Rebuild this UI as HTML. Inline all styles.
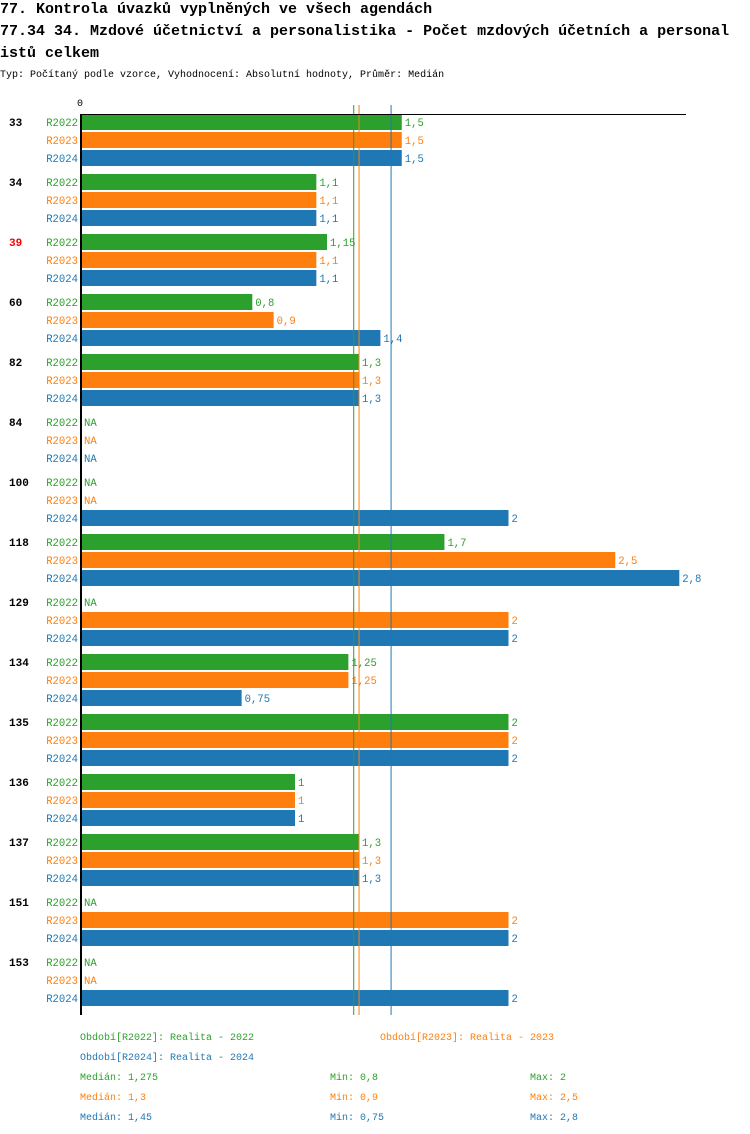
<!DOCTYPE html>
<html><head><meta charset="utf-8"><style>
body{margin:0;background:#fff;width:750px;height:1134px;overflow:hidden;font-family:"Liberation Mono",monospace}
svg{display:block}
</style></head><body>
<svg id="chart" width="750" height="1134" xmlns="http://www.w3.org/2000/svg" font-family="Liberation Mono, monospace">
<text x="0" y="13" font-size="15" font-weight="bold">77. Kontrola úvazků vyplněných ve všech agendách</text>
<text x="0" y="35" font-size="15" font-weight="bold">77.34 34. Mzdové účetnictví a personalistika - Počet mzdových účetních a personal</text>
<text x="0" y="57" font-size="15" font-weight="bold">istů celkem</text>
<text x="0" y="77" font-size="10">Typ: Počítaný podle vzorce, Vyhodnocení: Absolutní hodnoty, Průměr: Medián</text>
<g id="plot"></g>
<g id="legend" font-size="10">
<text x="80" y="1040" fill="#2ca02c">Období[R2022]: Realita - 2022</text>
<text x="380" y="1040" fill="#ff7f0e">Období[R2023]: Realita - 2023</text>
<text x="80" y="1060" fill="#1f77b4">Období[R2024]: Realita - 2024</text>
<text x="80" y="1080" fill="#2ca02c">Medián: 1,275</text>
<text x="330" y="1080" fill="#2ca02c">Min: 0,8</text>
<text x="530" y="1080" fill="#2ca02c">Max: 2</text>
<text x="80" y="1100" fill="#ff7f0e">Medián: 1,3</text>
<text x="330" y="1100" fill="#ff7f0e">Min: 0,9</text>
<text x="530" y="1100" fill="#ff7f0e">Max: 2,5</text>
<text x="80" y="1120" fill="#1f77b4">Medián: 1,45</text>
<text x="330" y="1120" fill="#1f77b4">Min: 0,75</text>
<text x="530" y="1120" fill="#1f77b4">Max: 2,8</text>
</g>
</svg>
<script>
const categories = ["33","34","39","60","82","84","100","118","129","134","135","136","137","151","153"];
const highlighted = ["39"];
const seriesNames = ["R2022","R2023","R2024"];
const r2022 = [1.5,1.1,1.15,0.8,1.3,null,null,1.7,null,1.25,2,1,1.3,null,null];
const r2023 = [1.5,1.1,1.1,0.9,1.3,null,null,2.5,2,1.25,2,1,1.3,2,null];
const r2024 = [1.5,1.1,1.1,1.4,1.3,null,2,2.8,2,0.75,2,1,1.3,2,2];
const medians = [1.275,1.3,1.45];
const colors = ["#2ca02c","#ff7f0e","#1f77b4"];
const series = [r2022,r2023,r2024];

const NS="http://www.w3.org/2000/svg";
const plot=document.getElementById('plot');
const x0=81.5, scale=213.5;
const xs=v=>x0+v*scale;
const groupY=i=>114+60*i;
const barY=(i,s)=>groupY(i)+18*s;
const fmt=v=>String(v).replace('.',',');
function mk(tag,attrs){const e=document.createElementNS(NS,tag);for(const k in attrs)e.setAttribute(k,attrs[k]);plot.appendChild(e);return e;}

categories.forEach((c,i)=>{
  const t=mk('text',{x:9,y:groupY(i)+12,'font-size':11,'font-weight':'bold',fill:highlighted.includes(c)?'#ff0000':'#000'});
  t.textContent=c;
  
  
  series.forEach((arr,s)=>{
    const y=barY(i,s);
    const l=mk('text',{x:78,y:y+12,'font-size':10.6,fill:colors[s],'text-anchor':'end'});
    l.textContent=seriesNames[s];
    
    
    const v=arr[i];
    if(v==null){
      const na=mk('text',{x:84,y:y+12,'font-size':10.6,fill:colors[s]});
      na.textContent='NA';
      
      
    } else {
      const r=mk('rect',{x:82,y:y,width:xs(v)-82,height:16,fill:colors[s]});
      
      
      const vt=mk('text',{x:xs(v)+3,y:y+12,'font-size':10.6,fill:colors[s]});
      vt.textContent=fmt(v);
      
      
    }
  });
});
medians.forEach((m,s)=>{
  const l=mk('line',{x1:xs(m),x2:xs(m),y1:105,y2:1015,stroke:colors[s],'stroke-width':1});
  
  
});
const yAxis=mk('line',{x1:81,x2:81,y1:114,y2:1015,stroke:'#000','stroke-width':2});


const topAxis=mk('line',{x1:80,x2:686,y1:114.5,y2:114.5,stroke:'#000','stroke-width':1});


const zeroTick=mk('text',{x:77,y:106,'font-size':10});
zeroTick.textContent='0';


</script>
</body></html>
